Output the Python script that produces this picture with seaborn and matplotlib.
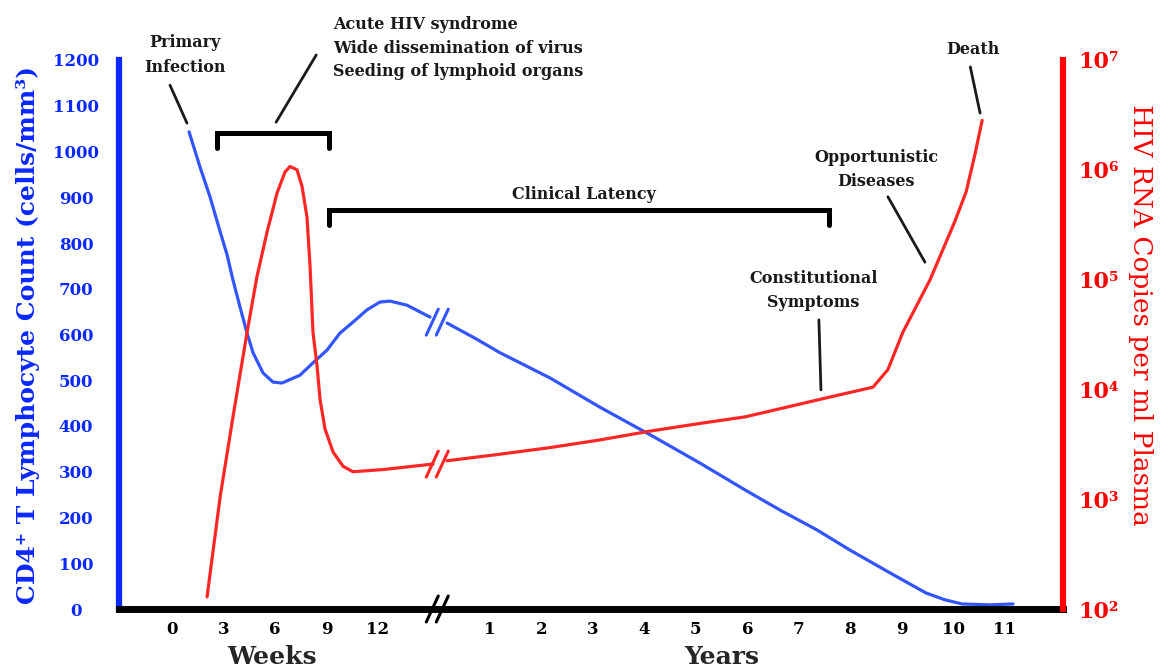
import numpy as np
import pandas as pd
import seaborn as sns
import matplotlib.pyplot as plt
from matplotlib.lines import Line2D
from matplotlib.transforms import IdentityTransform

# x axis: weeks after infection, a break, then years
week_ticks = [0, 3, 6, 9, 12]
year_ticks = [1, 2, 3, 4, 5, 6, 7, 8, 9, 10, 11]

# CD4+ T cell count (cells/mm3)
cd4_weeks = [0.99, 1.63, 2.21, 2.80, 3.20, 3.55, 3.96, 4.37, 4.72, 5.30, 5.88,
             6.41, 7.45, 8.21, 9.03, 9.78, 10.54, 11.36, 12.11, 12.70, 13.69, 15.03]
cd4_weeks_val = [1043, 966, 901, 825, 775, 719, 660, 603, 560, 516, 496,
                 494, 511, 538, 566, 603, 627, 654, 671, 673, 664, 638]
cd4_years = [0.17, 0.71, 1.20, 2.17, 3.14, 4.19, 5.08, 5.96, 6.64, 7.35, 7.99,
             8.77, 9.47, 9.84, 10.17, 10.71, 11.16]
cd4_years_val = [625, 592, 560, 505, 441, 376, 319, 260, 216, 173, 129,
                 79, 35, 20, 11, 9, 11]

# HIV RNA copies per ml plasma, as log10
rna_weeks = [2.04, 2.80, 3.55, 4.37, 4.95, 5.53, 6.12, 6.58, 6.87, 7.28, 7.57,
             7.86, 8.04, 8.21, 8.45, 8.62, 8.91, 9.38, 9.96, 10.54, 12.29, 15.20]
rna_weeks_log = [2.11, 3.02, 3.75, 4.52, 5.03, 5.43, 5.79, 5.98, 6.03, 6.00, 5.85,
                 5.57, 5.12, 4.52, 4.21, 3.91, 3.64, 3.43, 3.30, 3.25, 3.27, 3.32]
rna_years = [0.17, 1.20, 2.17, 3.14, 4.11, 5.08, 5.96, 6.69, 7.60, 8.44, 8.73,
             9.02, 9.55, 10.03, 10.25, 10.42, 10.56]
rna_years_log = [3.35, 3.41, 3.47, 3.54, 3.62, 3.69, 3.75, 3.83, 3.93, 4.02, 4.18,
                 4.52, 5.00, 5.53, 5.80, 6.14, 6.45]

YEAR0 = 5.17   # where year 0 would sit on the shared axis
BREAK = 5.15


def wk(w):
    return np.asarray(w, dtype=float) / 3


def yr(y):
    return YEAR0 + np.asarray(y, dtype=float)


blue = '#0a28ff'
blue_line = '#3355ff'
red = '#ff0000'
red_line = '#ff2626'
ink = '#1a1a1a'

sns.set_style('white')
plt.rcParams['font.family'] = ['DejaVu Serif', 'DejaVu Sans']

fig = plt.figure(figsize=(11.68, 6.70), dpi=100)
ax = fig.add_axes([119 / 1168, 61 / 670, 944 / 1168, 549 / 670])
ax2 = ax.twinx()

cd4_a = pd.DataFrame({'pos': wk(cd4_weeks), 'cd4': cd4_weeks_val})
cd4_b = pd.DataFrame({'pos': yr(cd4_years), 'cd4': cd4_years_val})
rna_a = pd.DataFrame({'pos': wk(rna_weeks), 'rna': 10 ** np.array(rna_weeks_log)})
rna_b = pd.DataFrame({'pos': yr(rna_years), 'rna': 10 ** np.array(rna_years_log)})

for d in (cd4_a, cd4_b):
    sns.lineplot(data=d, x='pos', y='cd4', ax=ax, color=blue_line, lw=2.3)
ax2.set_yscale('log')
for d in (rna_a, rna_b):
    sns.lineplot(data=d, x='pos', y='rna', ax=ax2, color=red_line, lw=2.3)

ax.set_xlim(-1.03, 17.30)
ax.set_ylim(0, 1200)
ax2.set_ylim(1e2, 1e7)

# spines
ax.spines['top'].set_visible(False)
ax.spines['right'].set_visible(False)
ax.spines['left'].set_color(blue)
ax.spines['left'].set_linewidth(4.5)
ax.spines['bottom'].set_color('black')
ax.spines['bottom'].set_linewidth(5)
for s in ('top', 'left', 'bottom'):
    ax2.spines[s].set_visible(False)
ax2.spines['right'].set_color(red)
ax2.spines['right'].set_linewidth(4.5)

# ticks
ax.set_yticks(range(0, 1201, 100))
ax.set_yticklabels([str(v) for v in range(0, 1201, 100)], fontweight='bold')
ax.tick_params(axis='y', colors=blue, length=0, pad=31, labelsize=12)
for lbl in ax.get_yticklabels():
    lbl.set_ha('center')

ax.set_xticks(list(wk(week_ticks)) + list(yr(year_ticks)))
ax.set_xticklabels([str(t) for t in week_ticks] + [str(t) for t in year_ticks],
                   fontweight='bold')
ax.tick_params(axis='x', colors='black', length=0, pad=9, labelsize=12)

sup = {2: '²', 3: '³', 4: '⁴', 5: '⁵', 6: '⁶', 7: '⁷'}
ax2.yaxis.set_minor_locator(plt.NullLocator())
ax2.set_yticks([10.0 ** k for k in range(2, 8)])
ax2.set_yticklabels(['10' + sup[k] for k in range(2, 8)], fontweight='bold')
ax2.tick_params(axis='y', colors=red, length=0, pad=11, labelsize=16)

ax.set_xlabel('')
ax.set_ylabel('')
ax2.set_ylabel('')

fig.text(28 / 1168, 1 - 335 / 670, 'CD4⁺ T Lymphocyte Count (cells/mm³)',
         rotation=90, ha='center', va='center', color=blue, fontsize=18,
         fontweight='bold')
fig.text(1141 / 1168, 1 - 315 / 670, 'HIV RNA Copies per ml Plasma',
         rotation=270, ha='center', va='center', color=red, fontsize=19)

xt = ax.get_xaxis_transform()
ax.text(wk(5.8), -0.087, 'Weeks', transform=xt, ha='center', va='center',
        fontsize=18, fontweight='bold')
ax.text(yr(5.5), -0.087, 'Years', transform=xt, ha='center', va='center',
        fontsize=18, fontweight='bold')


# brackets
def bracket(x0, x1, ytop, ylo):
    ax.plot([x0, x0, x1, x1], [ylo, ytop, ytop, ylo], color='black', lw=3.6,
            solid_joinstyle='miter', clip_on=False)


bracket(wk(2.62), wk(9.14), 1040, 1008)
bracket(wk(9.14), yr(7.59), 872, 839)

# annotations
tkw = dict(fontsize=11.5, fontweight='bold', color=ink, ha='center', va='center',
           linespacing=1.55)
ax.text(0.25, 1211, 'Primary\nInfection', **tkw)
ax.text(3.13, 1226, 'Acute HIV syndrome\nWide dissemination of virus\nSeeding of lymphoid organs',
        **{**tkw, 'ha': 'left', 'linespacing': 1.5})
ax.text(8.0, 907, 'Clinical Latency', **tkw)
ax.text(12.45, 697, 'Constitutional\nSymptoms', **tkw)
ax.text(13.67, 960, 'Opportunistic\nDiseases', **tkw)
ax.text(15.55, 1222, 'Death', **tkw)

leaders = [((-0.04, 1145), (0.29, 1062)),
           ((2.80, 1211), (2.02, 1064)),
           ((12.56, 632), (12.60, 479)),
           ((13.90, 901), (14.62, 758)),
           ((15.50, 1185), (15.69, 1084))]
for (x0, y0), (x1, y1) in leaders:
    ax.plot([x0, x1], [y0, y1], color=ink, lw=2, clip_on=False)


# axis break marks, drawn in pixels around a data point
def brk(axis, x, y, color):
    px, py = axis.transData.transform((x, y))
    for dx in (-5, 5):
        fig.add_artist(Line2D([px + dx - 6, px + dx + 6], [py - 13, py + 13],
                              transform=IdentityTransform(), color=color, lw=2.2))


brk(ax, BREAK, 627, blue_line)
brk(ax2, BREAK, 10 ** 3.32, red_line)
brk(ax, BREAK, 0, 'black')

fig.savefig('out.png', dpi=100)
